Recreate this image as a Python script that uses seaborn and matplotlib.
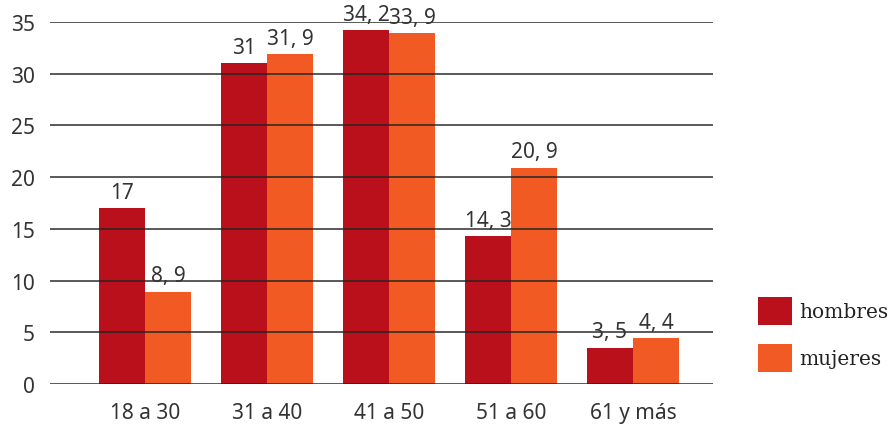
import matplotlib
matplotlib.use("Agg")
import matplotlib.pyplot as plt
import seaborn as sns
import pandas as pd

# Age groups and shares (%) per sex
grupos = ["18 a 30", "31 a 40", "41 a 50", "51 a 60", "61 y más"]
hombres = [17, 31, 34.2, 14.3, 3.5]
mujeres = [8.9, 31.9, 33.9, 20.9, 4.4]
series = ["hombres", "mujeres"]
yticks = [0, 5, 10, 15, 20, 25, 30, 35]

def etiqueta(v):
    return f"{v:g}".replace(".", ", ")

df = pd.DataFrame({
    "grupo": grupos * 2,
    "valor": hombres + mujeres,
    "sexo": [series[0]] * len(grupos) + [series[1]] * len(grupos),
})

sns.set_style("white")
plt.rcParams["font.family"] = ["Noto Sans", "DejaVu Sans"]

fig = plt.figure(figsize=(8.96, 4.27), dpi=100)
ax = fig.add_axes([50 / 896, 1 - 385 / 427, 663 / 896, 362 / 427])

colores = {"hombres": "#BA101B", "mujeres": "#F15A23"}
sns.barplot(data=df, x="grupo", y="valor", hue="sexo", palette=colores,
            width=0.754, gap=0, saturation=1, linewidth=0, ax=ax, zorder=2)

handles, labels = ax.get_legend_handles_labels()
ax.get_legend().remove()

ax.set_xlim(-0.779, 4.656)
ax.set_ylim(0, 35)
ax.set_yticks(yticks)
ax.set_xlabel("")
ax.set_ylabel("")
for s in ax.spines.values():
    s.set_visible(False)

# Horizontal rules drawn over the bars
for y in yticks:
    ax.axhline(y, color="#222222", alpha=0.75, lw=1.4, zorder=3)

ax.tick_params(axis="y", length=0, pad=11, labelsize=15, labelcolor="#333333")
ax.tick_params(axis="x", length=0, pad=13, labelsize=15, labelcolor="#333333")

for cont, vals in zip(ax.containers, [hombres, mujeres]):
    ax.bar_label(cont, labels=[etiqueta(v) for v in vals], padding=4,
                 fontsize=15, color="#333333", clip_on=False)

fig.legend(handles, labels, loc="upper left", bbox_to_anchor=(758 / 896, 1 - 298 / 427),
           frameon=False, borderpad=0, borderaxespad=0,
           handlelength=1.7, handleheight=1.75, labelspacing=0.95, handletextpad=0.35,
           prop={"family": "DejaVu Serif", "size": 14.5}, labelcolor="#222222")

fig.savefig("out.png", dpi=100)
